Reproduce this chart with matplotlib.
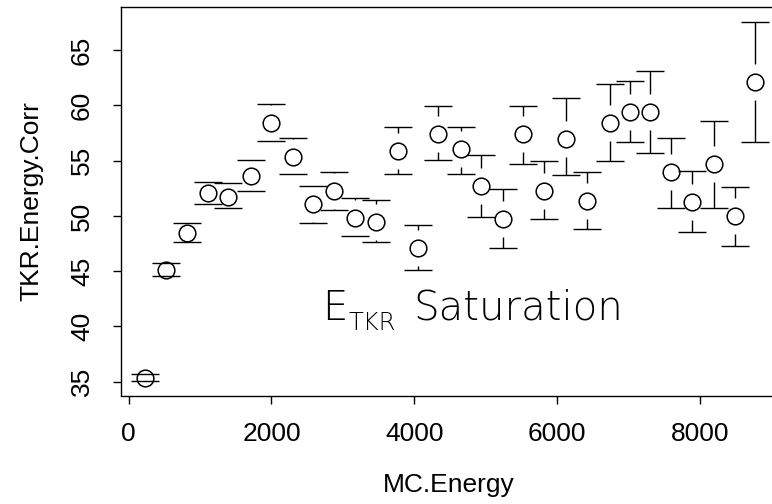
import matplotlib
matplotlib.use("Agg")
import matplotlib.pyplot as plt
from matplotlib import font_manager
import numpy as np

# ---- data ----
mc_energy = [224, 519, 823, 1111, 1392, 1710, 1990, 2303, 2583, 2870,
             3167, 3462, 3766, 4055, 4335, 4653, 4933, 5246, 5526, 5814,
             6125, 6415, 6732, 7012, 7292, 7596, 7891, 8195, 8484, 8764]
tkr_corr = [35.36, 45.10, 48.49, 52.09, 51.75, 53.63, 58.41, 55.29, 51.06, 52.27,
            49.79, 49.48, 55.87, 47.07, 57.44, 56.08, 52.66, 49.70, 57.41, 52.27,
            56.99, 51.39, 58.44, 59.44, 59.44, 53.94, 51.22, 54.66, 50.00, 62.13]
ci_low = [35.05, 44.52, 47.60, 51.05, 50.73, 52.24, 56.74, 53.75, 49.36, 50.54,
          48.20, 47.67, 53.81, 45.07, 55.02, 53.78, 49.94, 47.12, 54.66, 49.73,
          53.66, 48.82, 54.96, 56.69, 55.69, 50.70, 48.52, 50.73, 47.30, 56.69]
ci_high = [35.72, 45.76, 49.33, 53.10, 52.96, 55.02, 60.16, 57.04, 52.75, 53.93,
           51.60, 51.42, 58.05, 49.18, 59.95, 58.05, 55.50, 52.45, 59.95, 54.99,
           60.68, 53.94, 61.89, 62.19, 63.10, 57.05, 54.03, 58.59, 52.60, 67.54]
x_ticks = [0, 2000, 4000, 6000, 8000]
y_ticks = [35, 40, 45, 50, 55, 60, 65]

fam, fs = ["Liberation Sans", "DejaVu Sans"], 19


def wnum(f):
    w = f.weight
    if isinstance(w, str):
        return {"ultralight": 200, "extra light": 200, "light": 300}.get(w, 400)
    return w


tl = font_manager.fontManager.ttflist
if any(f.name == "DejaVu Sans" and wnum(f) <= 250 for f in tl):
    tfam, tw, tbig, tsmall = ["DejaVu Sans"], 200, 29, 17.5
elif any(f.name == "Open Sans" and wnum(f) <= 300 for f in tl):
    tfam, tw, tbig, tsmall = ["Open Sans"], "light", 31.5, 20
else:
    tfam, tw, tbig, tsmall = ["DejaVu Sans"], "normal", 29, 17.5

W, H = 772, 504
fig = plt.figure(figsize=(W / 100, H / 100), dpi=100)
ax = fig.add_axes([120.7 / W, (H - 395.5) / H, (778 - 120.7) / W, (395.5 - 7) / H])
ax.set_xlim(-110, 9090)
ax.set_ylim(33.75, 68.9)

x = np.array(mc_energy, float)
y = np.array(tkr_corr, float)
lo = np.array(ci_low, float)
hi = np.array(ci_high, float)

# pixel gap around each point (R plotCI style)
ax_h_px = H * ax.get_position().height
ppu = ax_h_px / (ax.get_ylim()[1] - ax.get_ylim()[0])
gap = 18.0 / ppu

lw = 1.0
for xi, yi, l, h in zip(x, y, lo, hi):
    if h > yi + gap:
        ax.vlines(xi, yi + gap, h, colors="k", linewidth=lw)
    if l < yi - gap:
        ax.vlines(xi, l, yi - gap, colors="k", linewidth=lw)

ax.plot(x, hi, ls="none", marker="_", ms=20, mew=lw, color="k")
ax.plot(x, lo, ls="none", marker="_", ms=20, mew=lw, color="k")
ax.plot(x, y, ls="none", marker="o", ms=12, mfc="none", mec="k", mew=1.1)

ax.set_xticks(x_ticks)
ax.set_yticks(y_ticks)
ax.set_xticklabels([str(v) for v in x_ticks], fontsize=fs, family=fam)
ax.set_yticklabels([str(v) for v in y_ticks], fontsize=fs, family=fam,
                   rotation=90, va="center")
ax.tick_params(axis="both", direction="out", length=5.8, width=1.0, color="k")
ax.tick_params(axis="x", pad=13.5)
ax.tick_params(axis="y", pad=13.5)
for s in ax.spines.values():
    s.set_linewidth(1.0)

fig.text(449 / W, (H - 485) / H, "MC.Energy", fontsize=fs, family=fam,
         ha="center", va="center")
fig.text(31 / W, (H - 201) / H, "TKR.Energy.Corr", fontsize=fs, family=fam,
         ha="center", va="center", rotation=90)

fig.text(321.7 / W, (H - 320) / H, "E", fontsize=tbig, family=tfam, weight=tw,
         ha="left", va="baseline")
fig.text(348.3 / W, (H - 330) / H, "TKR", fontsize=tsmall, family=tfam, weight=tw,
         ha="left", va="baseline")
fig.text(413.3 / W, (H - 320) / H, "Saturation", fontsize=tbig, family=tfam, weight=tw,
         ha="left", va="baseline")

fig.savefig("out.png", dpi=100)
